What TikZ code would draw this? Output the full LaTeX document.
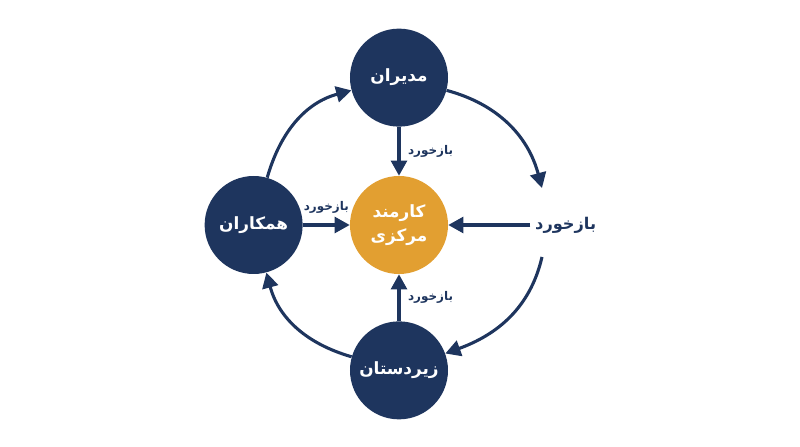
\documentclass[tikz,border=0pt]{standalone}
\usepackage{fontspec}
\newfontfamily\fa[Script=Arabic]{DejaVu Sans}
\TeXXeTstate=1
\usetikzlibrary{positioning, calc, arrows.meta}
\definecolor{navy}{HTML}{1E355E}
\definecolor{amber}{HTML}{E29F31}

\begin{document}
\begin{tikzpicture}[node distance=1.17cm,
  role/.style={circle, fill=navy, text=white, minimum size=2.45cm, inner sep=0pt, align=center, font=\fa\bfseries\fontsize{12}{17}\selectfont},
  flow/.style={-{Triangle[length=3.8mm, width=4mm]}, line width=2.2pt, color=navy},
  fbl/.style={text=navy, font=\fa\bfseries\fontsize{8.5}{10}\selectfont}]

  \useasboundingbox (-9.975,-5.55) rectangle (10.025,5.625);

  % Nodes
  \node[role, fill=amber] (emp) {\beginR کارمند\endR\\\beginR مرکزی\endR};
  \node[role, above=1.22cm of emp] (mgr) {\beginR مدیران\endR};
  \node[role, below=of emp] (sub) {\beginR زیردستان\endR};
  \node[role, left=of emp] (col) {\beginR همکاران\endR};
  \node[text=navy, font=\fa\bfseries\fontsize{11.5}{14}\selectfont, right=2.05cm of emp] (fb) {\beginR بازخورد\endR};

  % Free ends of the outer ring
  \coordinate (a1) at ($(emp)+(3.575,0.925)$);
  \coordinate (b1) at ($(emp)+(3.575,-0.8)$);

  % Arrows into the centre
  \draw[flow] (mgr) -- node[fbl, right=2pt] {\beginR بازخورد\endR} (emp);
  \draw[flow] (sub) -- node[fbl, right=2pt] {\beginR بازخورد\endR} (emp);
  \draw[flow] (col) -- node[fbl, above=4pt] {\beginR بازخورد\endR} (emp);
  \draw[flow] (fb) -- (emp);

  % Outer ring
  \draw[flow] (mgr) to[out=-15, in=105] (a1);
  \draw[flow] (b1) to[out=-103, in=20] (sub);
  \draw[flow] (sub) to[out=164, in=-75] (col);
  \draw[flow] (col) to[out=74, in=195] (mgr);

\end{tikzpicture}
\end{document}
